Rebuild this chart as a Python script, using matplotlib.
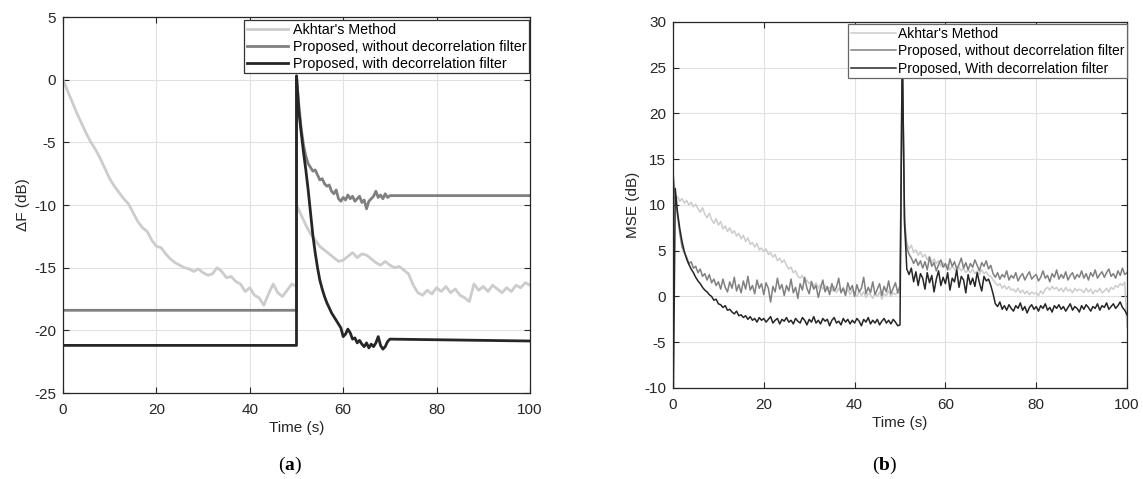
import matplotlib
matplotlib.use('Agg')
import matplotlib.pyplot as plt
import numpy as np

plt.rcParams['font.family'] = ['Liberation Sans', 'DejaVu Sans']
plt.rcParams['axes.unicode_minus'] = False
plt.rcParams['mathtext.fontset'] = 'custom'
plt.rcParams['mathtext.rm'] = 'Liberation Serif'
plt.rcParams['mathtext.bf'] = 'Liberation Serif:bold'

light = '#cccccc'
mid = '#808080'
dark = '#262626'

labels_a = ["Akhtar's Method", "Proposed, without decorrelation filter",
            "Proposed, with decorrelation filter"]
labels_b = ["Akhtar's Method", "Proposed, without decorrelation filter",
            "Proposed, With decorrelation filter"]

# ---- panel (a): misalignment dF (dB), Akhtar at 1 s steps
akhtar_a_before = [0.0, -0.9, -1.8, -2.7, -3.5, -4.3, -5.0, -5.6, -6.3, -7.1,
                   -7.9, -8.5, -9.0, -9.5, -9.9, -10.6, -11.3, -11.8, -12.1, -12.8,
                   -13.3, -13.4, -13.9, -14.3, -14.6, -14.8, -15.0, -15.1, -15.3, -15.1,
                   -15.4, -15.6, -15.5, -15.0, -15.3, -15.8, -15.7, -16.1, -16.3, -16.9,
                   -16.6, -17.2, -17.4, -18.0, -17.1, -16.3, -17.0, -17.3, -16.8, -16.3,
                   -16.5]
akhtar_a_after = [-10.0, -10.8, -11.6, -12.3, -12.8, -13.3, -13.6, -13.9, -14.2, -14.5,
                  -14.4, -14.1, -13.8, -14.2, -13.9, -14.0, -14.3, -14.6, -14.8, -14.5,
                  -14.8, -15.0, -14.9, -15.2, -15.5, -16.4, -17.0, -17.2, -16.8, -17.1,
                  -16.6, -16.9, -16.5, -17.0, -16.7, -17.2, -17.4, -17.7, -16.3, -16.8,
                  -16.5, -16.9, -16.4, -16.7, -17.0, -16.6, -16.9, -16.4, -16.6, -16.2,
                  -16.4]

# proposed filters: constant until 50 s, tracking 50-70 s (0.5 s steps), constant after
without_a_start = -18.4
without_a_track = [0.3, -2.0, -3.9, -5.2, -6.1, -6.7, -7.0, -7.3, -7.2, -7.6,
                   -8.0, -7.9, -8.3, -8.5, -8.4, -8.9, -9.1, -8.8, -9.5, -9.7,
                   -9.4, -9.6, -9.2, -9.5, -9.3, -9.7, -9.5, -9.3, -9.8, -9.6,
                   -10.3, -9.7, -9.5, -9.3, -8.9, -9.4, -9.2, -9.5, -9.1, -9.4,
                   -9.25]
without_a_end = -9.25

with_a_start = -21.2
with_a_track = [0.3, -2.5, -4.2, -5.8, -7.2, -8.8, -10.6, -12.4, -13.8, -15.0,
                -16.0, -16.7, -17.3, -17.8, -18.2, -18.6, -18.9, -19.2, -19.5, -19.8,
                -20.5, -20.3, -19.9, -20.2, -20.7, -20.6, -21.0, -20.8, -21.1, -21.3,
                -21.0, -21.4, -21.1, -21.3, -21.0, -20.5, -21.2, -21.5, -21.3, -20.9,
                -20.7]
with_a_end = -20.85

# ---- panel (b): MSE (dB), 0.5 s steps from 0 to 100 s
akhtar_b = [11.0, 10.6, 10.9, 10.4, 10.7, 10.2, 10.5, 10.0, 10.3, 9.8,
            10.1, 9.6, 9.2, 9.7, 9.0, 8.6, 9.1, 8.4, 8.0, 8.5,
            7.8, 8.2, 7.4, 7.7, 7.1, 7.5, 6.9, 7.2, 6.6, 6.9,
            6.3, 6.7, 6.0, 6.4, 5.7, 5.9, 5.4, 5.8, 5.1, 5.3,
            4.9, 5.2, 4.6, 4.8, 4.3, 4.6, 3.9, 4.2, 3.7, 4.0,
            3.4, 3.0, 3.2, 2.6, 2.8, 2.2, 2.0, 2.3, 1.6, 1.8,
            1.4, 1.7, 1.1, 1.5, 0.9, 1.3, 0.8, 1.2, 0.7, 1.0,
            0.6, 1.1, 0.4, 0.9, 0.5, 1.0, 0.3, 0.8, 0.2, 0.7,
            0.4, 0.0, 0.6, 0.1, 0.5, -0.1, 0.3, 0.2, -0.2, 0.4,
            0.0, 0.5, -0.3, 0.3, 0.1, 0.6, 0.0, 0.4, 0.2, 0.5,
            0.3, 26.5, 7.5, 5.8, 5.2, 5.6, 4.8, 5.1, 4.5, 4.9,
            4.3, 4.6, 4.0, 4.4, 3.7, 4.1, 3.6, 3.9, 3.3, 3.7,
            3.2, 3.5, 2.9, 3.3, 3.0, 2.7, 3.2, 2.8, 3.1, 2.6,
            2.9, 2.6, 3.0, 2.5, 2.8, 2.4, 2.9, 2.5, 2.7, 2.3,
            2.2, 1.8, 1.5, 1.2, 1.4, 0.9, 1.2, 0.8, 1.1, 0.7,
            0.8, 0.5, 0.9, 0.4, 0.7, 0.3, 0.6, 0.2, 0.5, 0.3,
            0.4, 0.1, 0.6, 0.3, 0.8, 1.0, 0.7, 1.1, 0.8, 1.0,
            0.6, 0.9, 0.5, 1.0, 0.6, 0.8, 0.4, 0.9, 0.6, 0.8,
            0.7, 0.4, 0.9, 0.5, 0.8, 0.3, 0.7, 0.5, 0.9, 0.4,
            0.6, 0.9, 0.5, 1.0, 0.8, 1.2, 1.0, 1.4, 1.2, 1.6,
            -3.3]
without_b = [13.5, 11.0, 8.8, 6.9, 5.4, 4.8, 4.3, 3.6, 3.8, 3.1,
             3.3, 2.6, 3.0, 2.2, 2.5, 1.8, 2.4, 1.5, 1.9, 1.2,
             1.6, 0.8, 1.9, 1.0, 0.5, 1.6, 0.9, 2.1, 0.6, 1.3,
             0.4, 1.7, 0.8, 2.2, 0.7, 1.2, 0.3, 1.8, 0.9, 1.4,
             0.2, 1.5, 0.9, -0.6, 1.1, 0.5, 2.0, 0.8, 1.3, 0.1,
             1.2, 0.6, 1.9, 0.4, 1.0, -0.2, 1.4, 0.7, 2.1, 0.9,
             0.3, 1.6, 0.8, 1.2, -0.1, 0.9, 1.8, 0.5, 1.1, 0.2,
             1.4, 0.6, 1.0, 2.0, 0.4, 0.9, 0.1, 1.5, 0.7, 1.2,
             0.0, 1.3, 0.5, 0.9, 2.1, 0.3, 1.0, 0.4, 1.6, 0.2,
             0.8, 1.4, 0.1, 1.1, 0.5, 1.7, 0.3, 0.9, 1.5, 0.4,
             1.2, 27.0, 8.5, 5.3, 4.6, 4.2, 3.6, 4.1, 3.4, 3.9,
             3.1, 3.8, 2.9, 4.3, 3.3, 3.7, 2.8, 3.5, 4.0, 3.2,
             3.6, 2.9, 4.1, 3.3, 3.8, 3.0, 3.5, 4.2, 3.1, 3.7,
             2.9, 3.6, 3.2, 4.0, 3.4, 2.8, 3.7, 3.3, 3.9, 3.0,
             3.4, 2.5, 2.1, 2.6, 1.9, 2.4, 2.1, 2.8, 1.8, 2.3,
             2.0, 2.6, 1.7, 2.2, 2.5, 1.8, 2.3, 2.7, 1.9, 2.2,
             2.4, 1.7, 2.1, 2.8, 2.0, 2.3, 1.6, 2.5, 2.1, 2.9,
             1.9, 2.4, 2.0, 2.7, 1.8, 2.3, 2.6, 1.9, 2.4, 2.1,
             2.8, 2.0, 2.5, 1.8, 2.6, 2.2, 2.9, 2.0, 2.4, 2.7,
             2.1, 2.6, 3.0, 2.2, 2.5, 2.0, 2.8, 2.3, 3.1, 2.4,
             2.6]
with_b = [-15.0, 11.8, 9.2, 7.4, 6.0, 4.9, 4.1, 3.5, 3.0, 2.6,
          2.1, 1.7, 1.4, 1.0, 0.7, 0.5, 0.2, 0.0, -0.4, -0.3,
          -0.8, -0.9, -1.2, -1.0, -1.5, -1.4, -1.7, -1.9, -1.6, -2.1,
          -2.0, -2.3, -2.1, -2.5, -2.2, -2.6, -2.4, -2.8, -2.3, -2.6,
          -2.4, -2.8, -2.5, -2.2, -2.9, -2.6, -2.4, -3.0, -2.5, -2.7,
          -2.3, -2.8, -2.6, -3.0, -2.4, -2.7, -2.9, -2.3, -2.6, -3.1,
          -2.5, -2.8, -2.2, -2.9, -2.6, -3.0, -2.4, -2.7, -2.5, -3.2,
          -2.6, -2.3, -2.9, -2.7, -3.1, -2.4, -2.8, -2.5, -3.0, -2.6,
          -2.9, -2.4, -2.7, -3.2, -2.5, -2.8, -2.3, -3.0, -2.6, -2.9,
          -2.5, -3.1, -2.7, -2.4, -2.9, -2.6, -3.0, -2.5, -2.8, -3.2,
          -3.1, 27.5, 8.0, 3.0, 2.4, 3.1, 1.6, 2.7, 1.2, 2.5,
          2.0, 0.8, 2.6, 1.5, 2.3, 0.5, 1.9, 2.8, 1.2, 2.1,
          1.4, 2.6, 0.7, 2.0, 1.6, 2.9, 1.0, 2.2, 1.8, 0.4,
          2.4, 1.3, 2.0, 1.1, 2.6, 1.5, 0.6, 2.2, 1.7, 1.9,
          1.2, 0.3, -0.8, -1.1, -0.6, -1.4, -1.0, -1.5, -0.9, -1.3,
          -1.6, -1.0, -1.3, -0.7, -1.5, -1.1, -1.8, -1.2, -0.9, -1.4,
          -1.1, -1.6, -1.0, -1.3, -0.8, -1.5, -1.2, -1.7, -1.0, -1.3,
          -0.9, -1.4, -1.1, -1.6, -1.2, -0.8, -1.5, -1.1, -1.3, -1.7,
          -1.0, -1.4, -0.9, -1.2, -1.6, -1.1, -1.3, -0.8, -1.5, -1.0,
          -1.2, -0.7, -1.4, -1.1, -0.8, -1.3, -1.0, -0.6, -1.2, -1.5,
          -2.0]


def style_axes(ax):
    ax.grid(True, color='#e1e1e1', linewidth=0.8)
    ax.set_axisbelow(True)
    ax.tick_params(direction='in', length=4, width=0.8, colors=dark,
                   top=True, right=True, labelsize=11, pad=5)
    ax.tick_params(axis='x', pad=7)
    for s in ax.spines.values():
        s.set_color(dark)
        s.set_linewidth(0.9)


fig = plt.figure(figsize=(11.43, 4.79), dpi=100)

# panel (a)
ax1 = fig.add_axes([0.0551, 0.1795, 0.4086, 0.785])
t_before = np.arange(0, 51)
t_after = np.arange(50, 101)
t_track = np.arange(50, 70.5, 0.5)
ax1.plot(np.concatenate([t_before, t_after]), akhtar_a_before + akhtar_a_after,
         color=light, lw=2.0, label=labels_a[0])
ax1.plot(np.concatenate([[0, 50], t_track, [100]]),
         [without_a_start, without_a_start] + without_a_track + [without_a_end],
         color=mid, lw=2.0, label=labels_a[1])
ax1.plot(np.concatenate([[0, 50], t_track, [100]]),
         [with_a_start, with_a_start] + with_a_track + [with_a_end],
         color=dark, lw=2.0, label=labels_a[2])
ax1.set_xlim(0, 100)
ax1.set_ylim(-25, 5)
ax1.set_xticks(np.arange(0, 101, 20))
ax1.set_yticks(np.arange(-25, 6, 5))
style_axes(ax1)
ax1.set_xlabel('Time (s)', fontsize=11, color=dark, labelpad=3)
ax1.set_ylabel('\u0394F (dB)', fontsize=11, color=dark, labelpad=3)
leg1 = ax1.legend(loc='upper right', bbox_to_anchor=(0.998, 0.992), borderaxespad=0,
                  fontsize=10.3, fancybox=False, framealpha=1, borderpad=0.2,
                  labelspacing=0.2, handlelength=2.9, handletextpad=0.3)
leg1.get_frame().set_edgecolor('#333333')
leg1.get_frame().set_linewidth(0.9)

# panel (b)
ax2 = fig.add_axes([0.5888, 0.19, 0.3972, 0.7641])
t_b = np.arange(0, 100.5, 0.5)
ax2.plot(t_b, akhtar_b, color=light, lw=1.1, label=labels_b[0])
ax2.plot(t_b, without_b, color=mid, lw=1.1, label=labels_b[1])
ax2.plot(t_b, with_b, color=dark, lw=1.1, label=labels_b[2])
ax2.set_xlim(0, 100)
ax2.set_ylim(-10, 30)
ax2.set_xticks(np.arange(0, 101, 20))
ax2.set_yticks(np.arange(-10, 31, 5))
style_axes(ax2)
ax2.set_xlabel('Time (s)', fontsize=11, color=dark, labelpad=3)
ax2.set_ylabel('MSE (dB)', fontsize=11, color=dark, labelpad=3)
leg2 = ax2.legend(loc='upper right', bbox_to_anchor=(1.0, 0.995), borderaxespad=0,
                  fontsize=10, fancybox=False, framealpha=1, borderpad=0.2,
                  labelspacing=0.25, handlelength=3.2, handletextpad=0.15)
leg2.get_frame().set_edgecolor('#666666')
leg2.get_frame().set_linewidth(0.9)

# sub-figure captions
fig.text(290 / 1143, 1 - 465 / 479, '(' + r'$\mathbf{a}$' + ')', ha='center', va='center',
         fontsize=14, family='Liberation Serif')
fig.text(885 / 1143, 1 - 465 / 479, '(' + r'$\mathbf{b}$' + ')', ha='center', va='center',
         fontsize=14, family='Liberation Serif')

fig.savefig('out.png', dpi=100)
